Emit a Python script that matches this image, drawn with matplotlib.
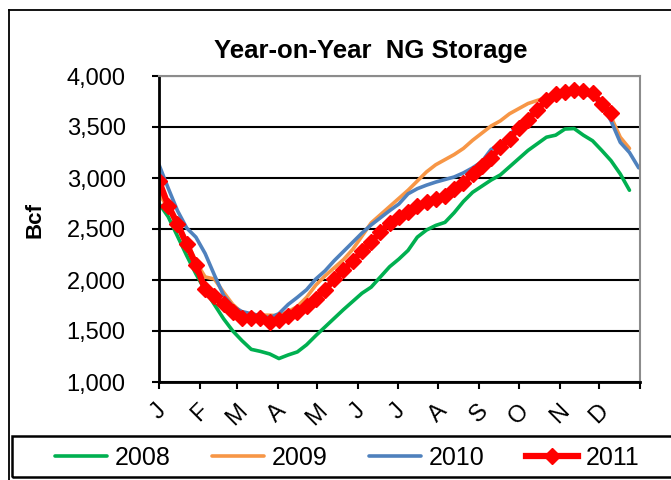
import matplotlib.pyplot as plt
import matplotlib.transforms as mtransforms
from matplotlib.lines import Line2D
from matplotlib.patches import Rectangle
from matplotlib.ticker import FuncFormatter

plt.rcParams.update({"font.family": ["Liberation Sans", "DejaVu Sans"]})

# month axis: ticks at month starts, in weeks
month_labels = ["J", "F", "M", "A", "M", "J", "J", "A", "S", "O", "N", "D", ""]
month_start_days = [0, 31, 59, 90, 120, 151, 181, 212, 243, 273, 304, 334, 365]

years = ["2008", "2009", "2010", "2011"]

# weekly working gas in storage, Bcf
storage_2008 = [2750, 2620, 2430, 2240, 2060, 1900, 1760, 1620, 1500, 1405,
                1320, 1300, 1275, 1230, 1265, 1295, 1365, 1455, 1540, 1625,
                1710, 1790, 1870, 1930, 2030, 2130, 2205, 2290, 2420, 2490,
                2535, 2565, 2660, 2770, 2860, 2920, 2980, 3030, 3110, 3190,
                3270, 3335, 3400, 3420, 3480, 3485, 3420, 3365, 3270, 3170,
                3040, 2880]
storage_2009 = [2850, 2700, 2560, 2380, 2180, 2030, 2010, 1880, 1760, 1680,
                1660, 1655, 1655, 1650, 1690, 1740, 1830, 1950, 2040, 2120,
                2200, 2300, 2430, 2560, 2640, 2720, 2800, 2880, 2970, 3060,
                3130, 3180, 3230, 3290, 3370, 3440, 3510, 3560, 3630, 3680,
                3730, 3760, 3790, 3820, 3830, 3835, 3830, 3800, 3730, 3600,
                3400, 3290]
storage_2010 = [3130, 2900, 2680, 2510, 2420, 2260, 2050, 1850, 1740, 1690,
                1670, 1650, 1630, 1670, 1760, 1830, 1905, 2010, 2090, 2190,
                2280, 2370, 2460, 2540, 2610, 2680, 2745, 2845, 2895, 2930,
                2960, 2985, 3010, 3050, 3100, 3160, 3280, 3330, 3420, 3520,
                3600, 3690, 3760, 3800, 3820, 3840, 3830, 3800, 3720, 3560,
                3350, 3250, 3100]
storage_2011 = [2970, 2730, 2550, 2350, 2150, 1910, 1840, 1760, 1690, 1630,
                1625, 1630, 1585, 1610, 1645, 1690, 1750, 1815, 1905, 2005,
                2100, 2190, 2280, 2375, 2470, 2560, 2620, 2665, 2725, 2760,
                2790, 2825, 2890, 2955, 3040, 3120, 3200, 3300, 3385, 3490,
                3570, 3670, 3760, 3825, 3845, 3860, 3855, 3830, 3730, 3635]

fig = plt.figure(figsize=(6.71, 4.80), dpi=100)
ax = fig.add_axes([159 / 671, 1 - 382 / 480, 481 / 671, 306 / 480])

series = [storage_2008, storage_2009, storage_2010]
colors = ["#00B050", "#F79646", "#4F81BD"]
for label, values, color in zip(years[:3], series, colors):
    ax.plot(range(len(values)), values, color=color, lw=2.6, label=label,
            solid_capstyle="round")
ax.plot(range(len(storage_2011)), storage_2011, color="#FF0000", lw=4.5,
        marker="D", markersize=8.5, markeredgecolor="#FF0000", label=years[3])

ax.set_xlim(0, 365 / 7)
ax.set_ylim(1000, 4000)
ax.set_yticks(range(1000, 4001, 500))
ax.yaxis.set_major_formatter(FuncFormatter(lambda v, p: f"{int(v):,}"))
ax.set_xticks([d / 7 for d in month_start_days])
ax.set_xticklabels(month_labels, rotation=45, ha="center")

offset = mtransforms.ScaledTranslation(-4 / 100, 0, fig.dpi_scale_trans)
for lbl in ax.get_xticklabels():
    lbl.set_transform(lbl.get_transform() + offset)

ax.tick_params(axis="y", length=5, width=1.5, pad=19, labelsize=17)
ax.tick_params(axis="x", length=5, width=1.5, pad=8, labelsize=17)

ax.set_axisbelow(True)
ax.yaxis.grid(True, color="black", lw=1.5)
for side in ["left", "bottom"]:
    ax.spines[side].set_linewidth(2)
    ax.spines[side].set_color("black")
for side in ["top", "right"]:
    ax.spines[side].set_linewidth(1.5)
    ax.spines[side].set_color("#8c8c8c")

ax.set_ylabel("Bcf", fontweight="bold", fontsize=16)
ax.yaxis.set_label_coords(-0.237, 0.53)

fig.text(371 / 671, 1 - 51 / 480, "Year-on-Year  NG Storage",
         ha="center", va="center", fontsize=18.5, fontweight="bold")

# chart area border (cropped at right and bottom)
fig.add_artist(Line2D([9 / 671, 9 / 671], [0, 1 - 10 / 480], color="black",
                      lw=1.3, transform=fig.transFigure))
fig.add_artist(Line2D([9 / 671, 1], [1 - 10 / 480, 1 - 10 / 480], color="black",
                      lw=1.3, transform=fig.transFigure))
fig.add_artist(Rectangle((12 / 671, 3 / 480), 1.0, 41 / 480,
                         fill=False, ec="black", lw=1.8,
                         transform=fig.transFigure))

handles, labels = ax.get_legend_handles_labels()
fig.legend(handles, labels, loc="center", bbox_to_anchor=(347 / 671, 1 - 458 / 480),
           ncol=4, frameon=False, fontsize=18, handlelength=2.1,
           handletextpad=0.3, columnspacing=1.65, borderpad=0)

fig.savefig("out.png", dpi=100, facecolor="white")
plt.close(fig)
